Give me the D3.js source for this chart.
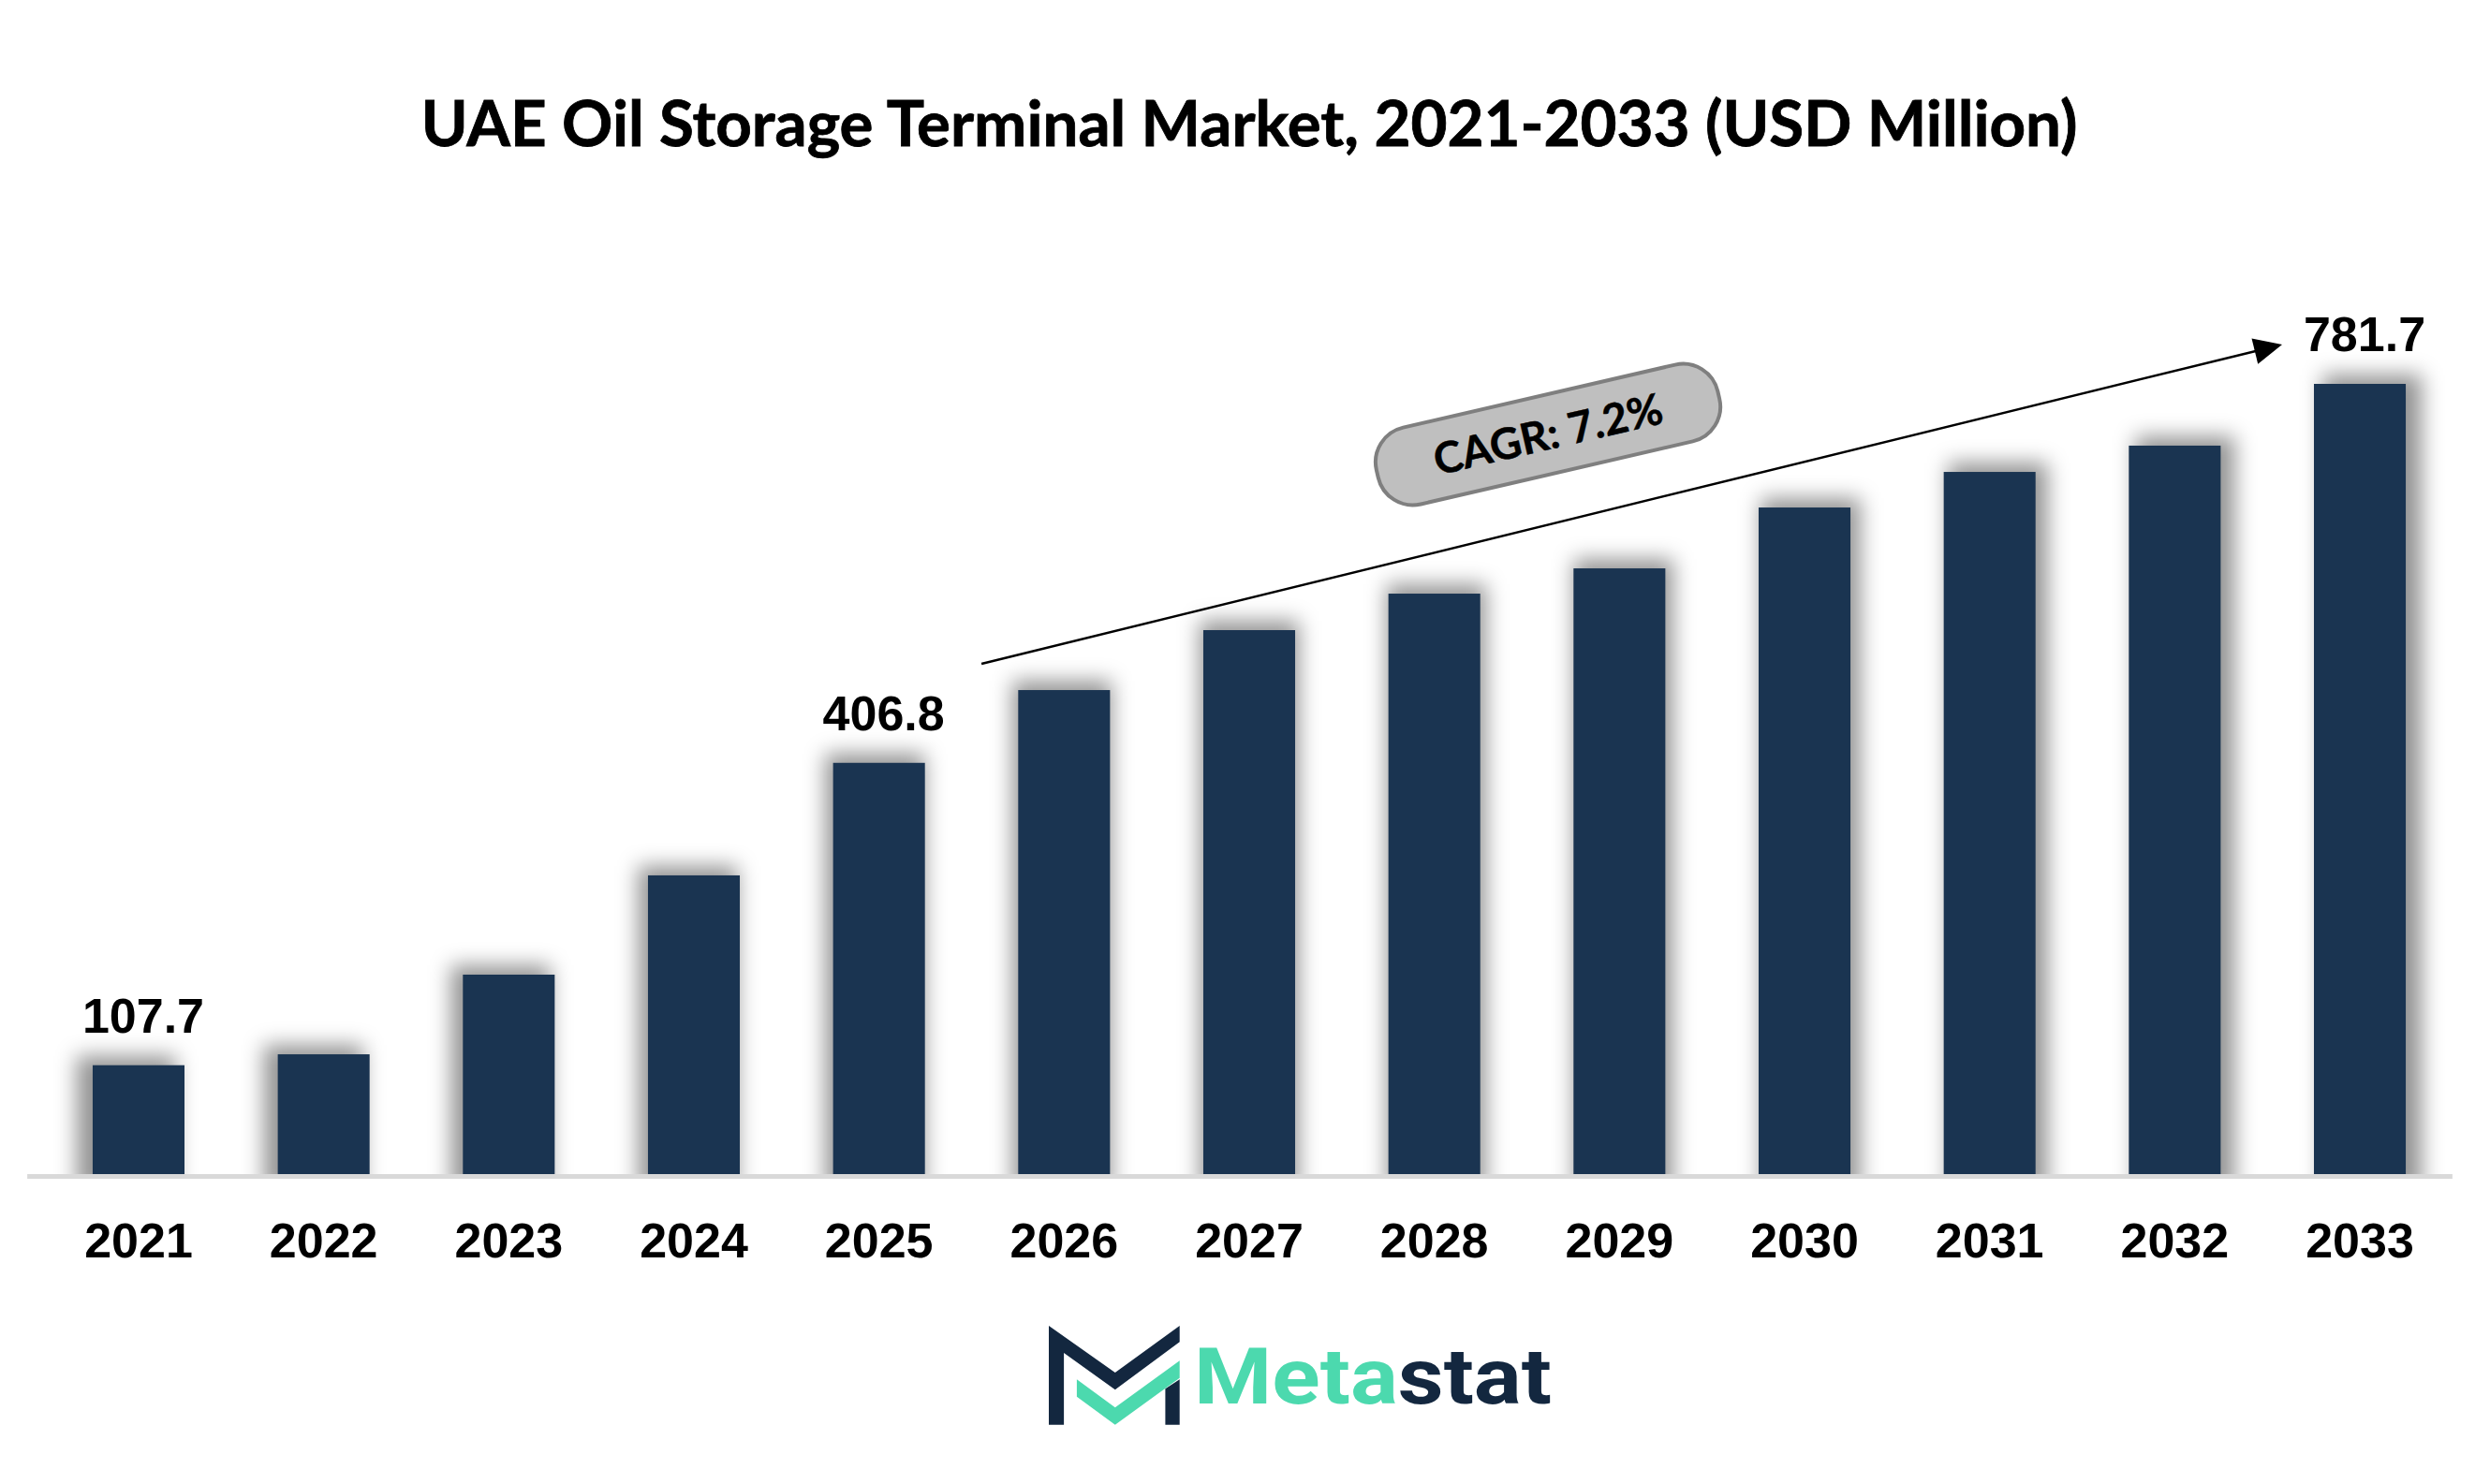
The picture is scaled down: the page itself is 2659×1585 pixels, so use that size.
<!DOCTYPE html>
<html>
<head>
<meta charset="utf-8">
<script src="https://cdn.jsdelivr.net/npm/d3@7"></script>
<style>
  html, body { margin: 0; padding: 0; background: #ffffff; }
  svg { display: block; }
</style>
</head>
<body>
<svg id="chart" width="2659" height="1585"></svg>
<script>
// ---------------- DATA ----------------
const years = ["2021","2022","2023","2024","2025","2026","2027","2028","2029","2030","2031","2032","2033"];
const values = [107.7, 118.5, 197.3, 295.5, 406.8, 478.8, 538.1, 574.2, 599.2, 659.4, 694.6, 720.6, 781.7];
const labelledYears = ["2021", "2025", "2033"];
const titleText = "UAE Oil Storage Terminal Market, 2021-2033 (USD Million)";
const cagrText = "CAGR: 7.2%";
const brandParts = ["Meta", "stat"];

// ---------------- LAYOUT ----------------
const W = 2659, H = 1585;
const baseY = 1254;
const barColor = "#1a3451";
const svg = d3.select("#chart");

const x = d3.scaleBand()
  .domain(years)
  .range([49.15, 2618.85])
  .paddingInner(0.504)
  .paddingOuter(0.252);

const y = d3.scaleLinear()
  .domain([0, 781.7])
  .range([baseY, 410]);

const bw = x.bandwidth();

const defs = svg.append("defs");
const blur = defs.append("filter").attr("id", "shadowBlur")
  .attr("x", "-50%").attr("y", "-50%").attr("width", "200%").attr("height", "200%");
blur.append("feGaussianBlur").attr("stdDeviation", 11);

defs.append("clipPath").attr("id", "aboveBase")
  .append("rect").attr("x", 0).attr("y", 0).attr("width", W).attr("height", baseY);

// Title
const title = svg.append("text")
  .attr("x", 1334).attr("y", 156)
  .attr("text-anchor", "middle")
  .attr("font-family", "Lato, 'Open Sans', sans-serif")
  .attr("font-weight", 700)
  .attr("font-size", 80)
  .attr("fill", "#000")
  .attr("stroke", "#000").attr("stroke-width", 0.8)
  .text(titleText);
{
  const len = title.node().getComputedTextLength();
  title.attr("font-size", 80 * 1769 / len);
}

// Shadows
const n = years.length;
svg.append("g").attr("clip-path", "url(#aboveBase)")
  .selectAll("rect").data(years).join("rect")
  .attr("x", (d, i) => x(d) + (i - (n - 1) / 2) * 2.2 - 4)
  .attr("y", (d, i) => y(values[i]) - 10)
  .attr("width", bw + 8)
  .attr("height", (d, i) => baseY - y(values[i]) + 30)
  .attr("fill", "rgba(0,0,0,0.42)")
  .attr("filter", "url(#shadowBlur)");

// Bars
svg.append("g")
  .selectAll("rect").data(years).join("rect")
  .attr("x", d => x(d))
  .attr("y", (d, i) => y(values[i]))
  .attr("width", bw)
  .attr("height", (d, i) => baseY - y(values[i]))
  .attr("fill", barColor);

// Axis base line
svg.append("rect")
  .attr("x", x.range()[0] - 20).attr("y", baseY)
  .attr("width", x.range()[1] - x.range()[0] + 20).attr("height", 5)
  .attr("fill", "#d9d9d9");

// X axis labels
const xAxis = d3.axisBottom(x).tickSize(0).tickPadding(52);
const gx = svg.append("g").attr("transform", `translate(0,${baseY})`).call(xAxis);
gx.select(".domain").remove();
gx.selectAll("text")
  .attr("font-family", "'Liberation Sans', Arial, sans-serif")
  .attr("font-weight", 700)
  .attr("font-size", 52)
  .attr("fill", "#000");

// Value labels
svg.append("g")
  .selectAll("text").data(labelledYears).join("text")
  .attr("x", d => x(d) + bw / 2 + 5)
  .attr("y", d => y(values[years.indexOf(d)]) - 35)
  .attr("text-anchor", "middle")
  .attr("font-family", "'Liberation Sans', Arial, sans-serif")
  .attr("font-weight", 700)
  .attr("font-size", 52)
  .attr("fill", "#000")
  .text(d => values[years.indexOf(d)].toFixed(1));

// CAGR arrow
const x0 = x("2026") - 0.4 * bw, y0 = y(values[5]) - 28;
const x1 = x("2033") - 34, y1 = y(values[12]) - 42;
const ang = Math.atan2(y1 - y0, x1 - x0);
const headL = 30, headW = 14;
const bx = x1 - headL * Math.cos(ang), by = y1 - headL * Math.sin(ang);
svg.append("line")
  .attr("x1", x0).attr("y1", y0).attr("x2", bx + 2 * Math.cos(ang)).attr("y2", by + 2 * Math.sin(ang))
  .attr("stroke", "#000").attr("stroke-width", 2.5);
{
  const px = -Math.sin(ang) * headW, py = Math.cos(ang) * headW;
  svg.append("path")
    .attr("d", `M${x1},${y1} L${bx + px},${by + py} L${bx - px},${by - py} Z`)
    .attr("fill", "#000");
}

// CAGR pill
const mx = (x0 + x1) / 2 - 89.5, my = (y0 + y1) / 2 - 74.5;
const pill = svg.append("g").attr("transform", `translate(${mx},${my}) rotate(-13)`);
pill.append("rect")
  .attr("x", -187).attr("y", -42).attr("width", 374).attr("height", 84)
  .attr("rx", 38).attr("ry", 38)
  .attr("fill", "#bfbfbf").attr("stroke", "#7f7f7f").attr("stroke-width", 4);
pill.append("text")
  .attr("x", 0).attr("y", 16)
  .attr("text-anchor", "middle")
  .attr("font-family", "Lato, 'Open Sans', sans-serif")
  .attr("font-weight", 700)
  .attr("font-size", 46)
  .attr("fill", "#000")
  .attr("stroke", "#000").attr("stroke-width", 0.5)
  .text(cagrText);

// Logo
const logo = svg.append("g").attr("transform", "translate(1120,1416)");
logo.append("path")
  .attr("d", "M0,0 L70.8,50 L139.7,0 L139.7,17.3 L70.8,68.3 L16.1,29 L16.1,105.7 L0,105.7 Z")
  .attr("fill", "#13273f");
logo.append("path")
  .attr("d", "M124.4,67.3 L139.7,57.3 L139.7,105.7 L124.4,105.7 Z")
  .attr("fill", "#13273f");
logo.append("path")
  .attr("d", "M29.9,57.3 L70.8,87.3 L139.7,37.3 L139.7,55.7 L70.8,105.7 L29.9,75.7 Z")
  .attr("fill", "#4cd9ae");
const brand = logo.append("text")
  .attr("x", 155).attr("y", 83)
  .attr("font-family", "Roboto, 'Open Sans', sans-serif")
  .attr("font-weight", 700)
  .attr("font-size", 84)
  .attr("textLength", 382).attr("lengthAdjust", "spacingAndGlyphs");
brand.append("tspan").attr("fill", "#4cd9ae").text(brandParts[0]);
brand.append("tspan").attr("fill", "#13273f").text(brandParts[1]);
</script>
</body>
</html>
